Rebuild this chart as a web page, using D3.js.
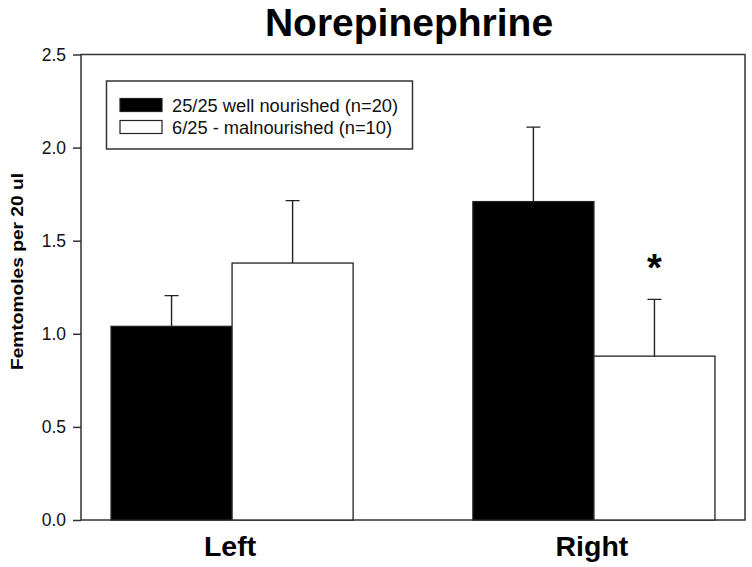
<!DOCTYPE html>
<html>
<head>
<meta charset="utf-8">
<script src="https://cdn.jsdelivr.net/npm/d3@7"></script>
<style>
  html, body { margin: 0; padding: 0; background: #fff; }
  svg { display: block; font-family: Arial, "Liberation Sans", Helvetica, sans-serif; }
</style>
</head>
<body>
<div id="chart"></div>
<script>
const categories = ["Left", "Right"];
const groups = ["25/25 well nourished (n=20)", "6/25 - malnourished (n=10)"];
const wellNourished = [1.04, 1.71];
const wellNourishedErr = [0.165, 0.40];
const malnourished = [1.38, 0.88];
const malnourishedErr = [0.335, 0.305];
const yTicks = [0.0, 0.5, 1.0, 1.5, 2.0, 2.5];
const fills = ["#000000", "#ffffff"];

const width = 752
const height = 567
const margin = ({ top: 54.5, right: 7, bottom: 47, left: 81 })

const svg = d3.select("#chart").append("svg")
  .attr("width", width)
  .attr("height", height)
  .attr("viewBox", [0, 0, width, height]);

const data = categories.map((cat, i) => ({
  cat,
  values: [
    { key: groups[0], value: wellNourished[i], err: wellNourishedErr[i], fill: fills[0] },
    { key: groups[1], value: malnourished[i], err: malnourishedErr[i], fill: fills[1] },
  ]
}));

const x0 = d3.scaleBand()
  .domain(categories)
  .range([margin.left, width - margin.right])
  .paddingInner(0.331)
  .paddingOuter(0.083)

const x1 = d3.scaleBand()
  .domain(groups)
  .range([0, x0.bandwidth()])

const y = d3.scaleLinear()
  .domain([0, 2.5])
  .range([height - margin.bottom, margin.top])

// frame
svg.append("rect")
  .attr("x", margin.left)
  .attr("y", margin.top)
  .attr("width", width - margin.right - margin.left)
  .attr("height", height - margin.bottom - margin.top)
  .attr("fill", "none")
  .attr("stroke", "#333")
  .attr("stroke-width", 1.5);

// bars
const g = svg.append("g")
  .selectAll("g")
  .data(data)
  .join("g")
  .attr("transform", d => `translate(${x0(d.cat)},0)`);

g.selectAll("rect")
  .data(d => d.values)
  .join("rect")
  .attr("x", d => x1(d.key))
  .attr("y", d => y(d.value))
  .attr("width", x1.bandwidth())
  .attr("height", d => y(0) - y(d.value))
  .attr("fill", d => d.fill)
  .attr("stroke", "#222")
  .attr("stroke-width", 1.3);

// error bars (upper only)
const capW = 14;
g.selectAll("path.err")
  .data(d => d.values)
  .join("path")
  .attr("class", "err")
  .attr("fill", "none")
  .attr("stroke", "#222")
  .attr("stroke-width", 1.4)
  .attr("d", d => {
    const cx = x1(d.key) + x1.bandwidth() / 2;
    const top = y(d.value + d.err);
    return `M${cx},${y(d.value)}V${top}M${cx - capW / 2},${top}H${cx + capW / 2}`;
  });

// significance star on right malnourished bar
svg.append("text")
  .attr("x", x0("Right") + x1(groups[1]) + x1.bandwidth() / 2)
  .attr("y", 281)
  .attr("text-anchor", "middle")
  .attr("font-size", 38)
  .attr("font-weight", "bold")
  .text("*");

// y axis
const yAxis = g => g
  .attr("transform", `translate(${margin.left},0)`)
  .call(d3.axisLeft(y).tickValues(yTicks).tickFormat(d3.format(".1f")).tickSize(8).tickPadding(7))
  .call(g => g.select(".domain").remove())
  .call(g => g.selectAll(".tick line").attr("stroke", "#333").attr("stroke-width", 1.5))
  .call(g => g.selectAll(".tick text")
    .attr("font-family", "Arial, 'Liberation Sans', sans-serif")
    .attr("font-size", 17.5)
    .attr("fill", "#111"));

svg.append("g").call(yAxis);

// x axis labels
svg.append("g")
  .selectAll("text")
  .data(categories)
  .join("text")
  .attr("x", d => x0(d) + x0.bandwidth() / 2 - 2)
  .attr("y", 556)
  .attr("text-anchor", "middle")
  .attr("font-size", 28.5)
  .attr("font-weight", "bold")
  .attr("fill", "#000")
  .text(d => d);

// y axis title
svg.append("text")
  .attr("transform", `translate(23,271.5) rotate(-90)`)
  .attr("text-anchor", "middle")
  .attr("font-size", 17)
  .attr("font-weight", "bold")
  .attr("textLength", 197)
  .attr("lengthAdjust", "spacingAndGlyphs")
  .text("Femtomoles per 20 ul");

// title
svg.append("text")
  .attr("x", 409)
  .attr("y", 35.5)
  .attr("text-anchor", "middle")
  .attr("font-size", 39)
  .attr("font-weight", "bold")
  .text("Norepinephrine");

// legend
const legend = svg.append("g");
legend.append("rect")
  .attr("x", 106.5)
  .attr("y", 81)
  .attr("width", 306)
  .attr("height", 68)
  .attr("fill", "#fff")
  .attr("stroke", "#333")
  .attr("stroke-width", 1.5);

const rows = legend.selectAll("g.row")
  .data(groups)
  .join("g")
  .attr("class", "row")
  .attr("transform", (d, i) => `translate(120,${98.5 + i * 22})`);

rows.append("rect")
  .attr("width", 42)
  .attr("height", 13)
  .attr("fill", (d, i) => fills[i])
  .attr("stroke", "#222")
  .attr("stroke-width", 1.2);

rows.append("text")
  .attr("x", 52)
  .attr("y", 13)
  .attr("font-size", 18.3)
  .attr("fill", "#111")
  .text(d => d);
</script>
</body>
</html>
